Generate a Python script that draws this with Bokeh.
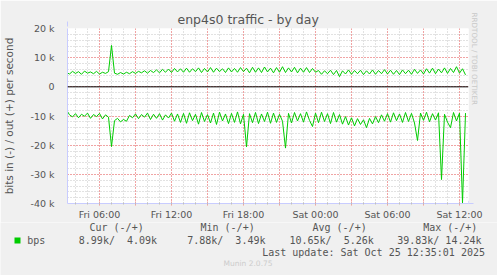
from bokeh.plotting import figure
from bokeh.layouts import column
from bokeh.models import FixedTicker, Span, Arrow, NormalHead, Range1d, Title
from bokeh.core.properties import value
from bokeh.embed import file_html
from bokeh.resources import INLINE
import numpy as np

# ---------------- data ----------------
TITLE = "enp4s0 traffic - by day"
Y_TITLE = "bits in (-) / out (+) per second"
start_hour = 3.25      # hours after Fri 00:00
step_hours = 0.25      # 15-minute samples

bps_out_k = [
    4.9, 4.4, 5.3, 4.6, 5.2, 4.3, 5.4, 4.7, 5.1, 4.5,
    5.3, 4.4, 5.0, 4.6, 5.2, 14.2, 4.7, 4.3, 4.9, 4.4,
    5.0, 4.5, 5.2, 4.6, 5.3, 4.8, 5.5, 4.7, 5.6, 4.9,
    5.8, 4.8, 6.0, 5.0, 6.1, 4.9, 6.3, 5.1, 6.2, 5.0,
    6.4, 5.0, 6.2, 5.2, 6.5, 4.9, 6.3, 5.1, 6.6, 5.0,
    6.4, 5.2, 6.2, 4.9, 6.5, 5.1, 6.3, 5.0, 6.6, 5.2,
    6.4, 4.8, 6.7, 5.0, 6.5, 4.9, 6.8, 5.1, 6.4, 4.8,
    6.6, 5.0, 6.9, 4.9, 6.5, 5.1, 6.7, 4.8, 6.4, 5.0,
    6.6, 4.9, 6.3, 5.0, 5.6, 4.3, 5.5, 4.5, 5.7, 4.2,
    5.6, 3.5, 5.5, 4.4, 5.8, 4.3, 5.6, 4.5, 5.7, 4.2,
    5.5, 4.4, 5.8, 4.3, 5.6, 4.5, 5.9, 4.4, 5.7, 4.3,
    5.6, 4.2, 5.8, 4.5, 5.7, 4.3, 6.0, 4.6, 5.8, 4.4,
    6.2, 4.7, 6.4, 4.5, 6.1, 4.8, 6.5, 4.6, 6.3, 4.9,
    6.9, 4.7, 6.2, 4.1,
]

bps_in_k = [
    7.9, 9.6, 10.3, 9.2, 10.6, 9.4, 10.1, 9.0, 10.8, 9.5,
    10.2, 9.1, 11.0, 9.6, 10.4, 20.5, 11.6, 10.8, 12.0, 11.2,
    11.8, 9.8, 10.6, 9.3, 10.9, 9.5, 10.4, 9.0, 11.2, 9.4,
    10.8, 9.2, 11.4, 9.6, 10.7, 9.0, 11.8, 9.3, 12.2, 9.1,
    12.5, 8.9, 11.6, 9.4, 12.8, 8.8, 11.9, 9.5, 12.4, 9.0,
    12.9, 8.7, 11.7, 9.3, 12.6, 9.1, 12.2, 8.6, 12.7, 9.4,
    20.6, 9.2, 12.3, 8.8, 12.6, 9.3, 11.9, 8.7, 12.5, 9.0,
    12.2, 9.4, 11.8, 21.0, 9.1, 12.4, 8.8, 11.7, 9.2, 12.1,
    8.6, 11.5, 13.6, 9.0, 12.3, 8.7, 11.9, 9.2, 12.6, 8.8,
    12.1, 9.5, 12.8, 10.2, 13.1, 10.6, 13.4, 10.9, 12.9, 11.3,
    14.0, 10.8, 12.7, 10.2, 12.3, 9.6, 11.8, 9.2, 12.1, 8.9,
    11.6, 9.3, 12.2, 8.8, 11.9, 9.1, 12.4, 18.4, 9.0, 11.5,
    8.7, 12.0, 9.2, 11.4, 8.9, 31.8, 9.4, 12.1, 14.0, 8.8,
    11.7, 9.0, 39.8, 9.0,
]

x_ticks = [6, 9, 12, 15, 18, 21, 24, 27, 30, 33, 36]
x_tick_labels = ["Fri 06:00", "", "Fri 12:00", "", "Fri 18:00", "",
                 "Sat 00:00", "", "Sat 06:00", "", "Sat 12:00"]
x_minor = list(range(4, 37))
y_ticks = [-40000, -30000, -20000, -10000, 0, 10000, 20000]
y_tick_labels = ["-40 k", "-30 k", "-20 k", "-10 k", "0", "10 k", "20 k"]
y_minor = list(range(-40000, 20001, 2000))

legend_name = "bps"
legend_headers = ["Cur (-/+)", "Min (-/+)", "Avg (-/+)", "Max (-/+)"]
legend_values = ["8.99k/  4.09k", "7.88k/  3.49k", "10.65k/  5.26k", "39.83k/ 14.24k"]
last_update = "Last update: Sat Oct 25 12:35:01 2025"
munin_version = "Munin 2.0.75"
watermark = "RRDTOOL / TOBI OETIKER"

hours = start_hour + step_hours * np.arange(len(bps_out_k))
out_vals = [v * 1000 for v in bps_out_k]
in_vals = [-v * 1000 for v in bps_in_k]

# ---------------- layout ----------------
W, H = 497, 275
L, R, T, B = 67, 468, 28, 204
MAIN_H = 222
X0 = 6 - (99 - L) / 12.0
X1 = X0 + (R - L) / 12.0
YMIN, YMAX = -40000, 20000
PX_Y = (YMAX - YMIN) / (B - T)

TXT = "#555555"
AXIS = "#c8ccff"
GREEN = "#00cc00"

def keep_spaces(s):
    return s.replace(" ", "\u00a0")

p = figure(width=W, height=MAIN_H, output_backend="svg", toolbar_location=None,
           x_range=Range1d(X0, X1), y_range=Range1d(YMIN, YMAX),
           min_border_left=L, min_border_right=W - R, min_border_top=T,
           min_border_bottom=MAIN_H - B)
p.border_fill_color = "#f0f0f0"
p.background_fill_color = "white"
p.outline_line_color = None

# axes
p.xaxis.ticker = FixedTicker(ticks=x_ticks, minor_ticks=x_minor)
p.xaxis.major_label_overrides = {t: s for t, s in zip(x_ticks, x_tick_labels)}
p.yaxis.ticker = FixedTicker(ticks=y_ticks, minor_ticks=y_minor)
p.yaxis.major_label_overrides = {t: s for t, s in zip(y_ticks, y_tick_labels)}

for ax in (p.xaxis[0], p.yaxis[0]):
    ax.axis_line_color = AXIS
    ax.major_label_text_font = "DejaVu Sans"
    ax.major_label_text_font_size = "9.5px"
    ax.major_label_text_color = TXT

p.xaxis.major_tick_line_color = "#ff9090"
p.xaxis.major_tick_out = 2
p.xaxis.major_tick_in = 2
p.xaxis.minor_tick_line_color = "#c0c0c0"
p.xaxis.minor_tick_out = 1
p.xaxis.minor_tick_in = 1
p.xaxis.major_label_standoff = 3

p.yaxis.major_tick_line_color = None
p.yaxis.minor_tick_line_color = None
p.yaxis.major_label_standoff = 7
p.yaxis.axis_label = Y_TITLE
p.yaxis.axis_label_text_font = "DejaVu Sans"
p.yaxis.axis_label_text_font_size = "10.5px"
p.yaxis.axis_label_text_font_style = "normal"
p.yaxis.axis_label_text_color = TXT
p.yaxis.axis_label_standoff = 12

# grids
for g in (p.xgrid[0], p.ygrid[0]):
    g.grid_line_color = "#ff6666"
    g.grid_line_alpha = 1.0
    g.grid_line_dash = "1 2"
    g.minor_grid_line_color = "#c0c0c0"
    g.minor_grid_line_alpha = 0.9
    g.minor_grid_line_dash = "1 2"

# zero rule
p.add_layout(Span(location=0, dimension="width", line_color="black", line_width=1))

# data
p.line(hours, out_vals, line_color=GREEN, line_width=1)
p.line(hours, in_vals, line_color=GREEN, line_width=1)

# axis arrows
p.add_layout(Arrow(x_start=X0, y_start=YMAX, x_end=X0, y_end=YMAX + 7 * PX_Y,
                   line_color=AXIS, line_width=1,
                   end=NormalHead(size=5, line_color=AXIS, fill_color=AXIS)))
p.add_layout(Arrow(x_start=X1, y_start=YMIN, x_end=X1 + 5 / 12.0, y_end=YMIN,
                   line_color=AXIS, line_width=1,
                   end=NormalHead(size=5, line_color=AXIS, fill_color=AXIS)))

# title and watermark in side panels
p.add_layout(Title(text=TITLE, align="left", offset=110, standoff=3,
                   text_font="DejaVu Sans", text_font_size="12.5px",
                   text_font_style="normal", text_color=TXT), "above")
# invisible spacer next to the frame, then the watermark
p.add_layout(Title(text=".", standoff=14, text_alpha=0, text_font_size="7px"), "right")
p.add_layout(Title(text=watermark, align="left", offset=-16, standoff=0,
                   vertical_align="middle",
                   text_font="DejaVu Sans", text_font_size="7.2px",
                   text_font_style="normal", text_color="#c8c8c8"), "right")

# ---------------- legend strip (pixel coordinates) ----------------
q = figure(width=W, height=H - MAIN_H, output_backend="svg", toolbar_location=None,
           x_range=Range1d(0, W), y_range=Range1d(H, MAIN_H),
           x_axis_type=None, y_axis_type=None,
           min_border_left=0, min_border_right=0, min_border_top=0, min_border_bottom=0)
q.border_fill_color = "#f0f0f0"
q.background_fill_color = "#f0f0f0"
q.outline_line_color = None
q.xgrid.visible = False
q.ygrid.visible = False

for f in (p, q):
    if "frame_align" in f.properties():
        f.frame_align = False

MONO = value("DejaVu Sans Mono")
q.text(x=[89, 200, 312, 422.7], y=[226.7] * 4, text=[keep_spaces(s) for s in legend_headers],
       text_align="left", text_baseline="middle", text_font=MONO,
       text_font_size="10px", text_color=TXT)
q.text(x=[78.3, 186.7, 289, 396.7], y=[240] * 4, text=[keep_spaces(s) for s in legend_values],
       text_align="left", text_baseline="middle", text_font=MONO,
       text_font_size="10px", text_color=TXT)
q.text(x=[26.7], y=[240], text=[legend_name], text_align="left",
       text_baseline="middle", text_font=MONO, text_font_size="10px", text_color=TXT)
q.quad(left=[14], right=[20], top=[237], bottom=[243], fill_color=GREEN, line_color=None)
q.text(x=[261.7], y=[251.7], text=[keep_spaces(last_update)], text_align="left",
       text_baseline="middle", text_font=MONO, text_font_size="10px", text_color=TXT)
q.text(x=[223], y=[263.3], text=[munin_version], text_align="left",
       text_baseline="middle", text_font=value("DejaVu Sans"),
       text_font_size="7.5px", text_color="#cccccc")

layout = column(p, q, spacing=0)
open("out.html", "w").write(file_html(layout, INLINE))
